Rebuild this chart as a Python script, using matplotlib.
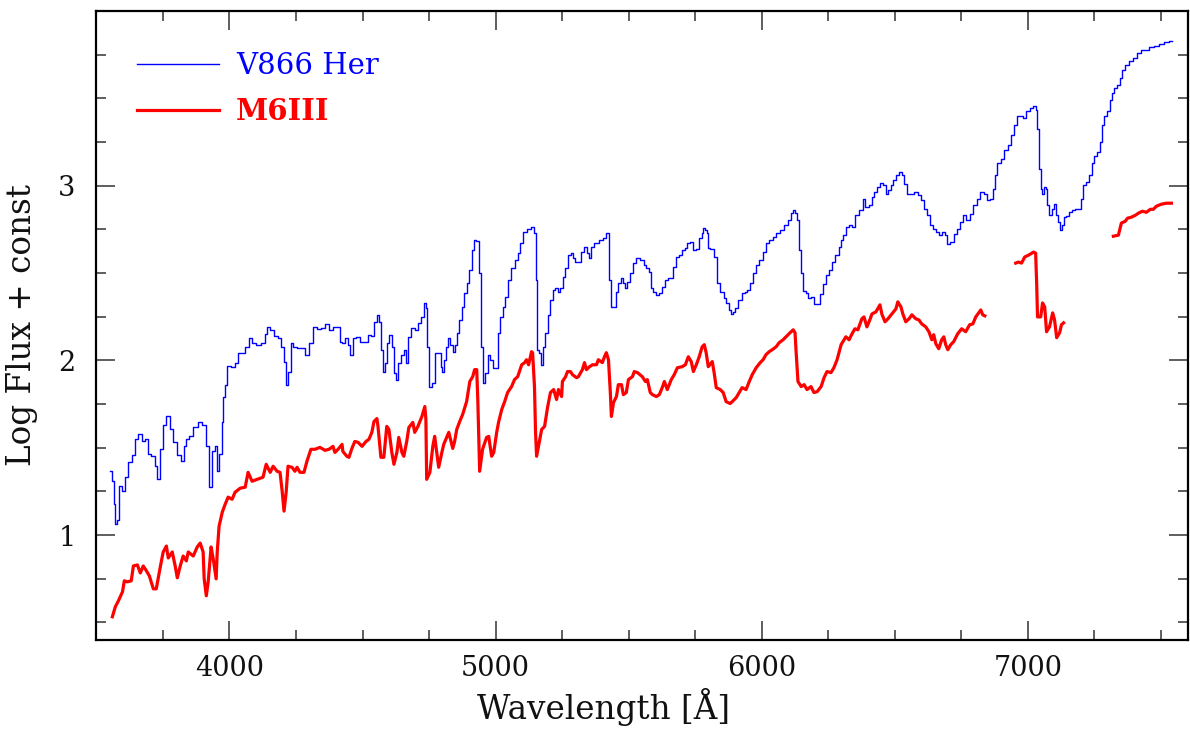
import numpy as np
import matplotlib
matplotlib.use("Agg")
import matplotlib.pyplot as plt
from matplotlib.ticker import MultipleLocator, FixedLocator

# V866 Her spectrum (wavelength [A], log flux + const)
blue_wave = [3553, 3564, 3568, 3571, 3583, 3590, 3605, 3613, 3628, 3639, 3650, 3665, 3676, 3688, 3699,
             3714, 3725, 3733, 3748, 3755, 3770, 3781, 3796, 3811, 3823, 3834, 3841, 3856, 3871, 3890,
             3905, 3916, 3928, 3939, 3950, 3954, 3969, 3973, 3980, 3988, 3995, 4014, 4029, 4036, 4051,
             4066, 4078, 4093, 4108, 4126, 4138, 4145, 4160, 4175, 4190, 4201, 4209, 4216, 4224, 4235,
             4246, 4261, 4273, 4291, 4306, 4321, 4340, 4351, 4366, 4385, 4396, 4408, 4419, 4430, 4441,
             4449, 4460, 4471, 4483, 4498, 4513, 4528, 4539, 4550, 4558, 4565, 4573, 4580, 4591, 4595,
             4606, 4614, 4621, 4629, 4640, 4651, 4659, 4666, 4678, 4689, 4704, 4715, 4726, 4734, 4741,
             4745, 4756, 4764, 4779, 4790, 4798, 4801, 4809, 4816, 4824, 4835, 4843, 4854, 4858, 4869,
             4876, 4888, 4895, 4906, 4914, 4921, 4933, 4940, 4948, 4955, 4966, 4974, 4985, 4993, 5004,
             5011, 5023, 5030, 5041, 5053, 5064, 5079, 5086, 5098, 5109, 5124, 5139, 5146, 5154, 5158,
             5169, 5173, 5180, 5191, 5199, 5210, 5218, 5229, 5236, 5251, 5259, 5266, 5278, 5289, 5296,
             5304, 5315, 5326, 5338, 5345, 5353, 5364, 5379, 5398, 5409, 5420, 5431, 5439, 5450, 5454,
             5465, 5476, 5484, 5491, 5499, 5510, 5521, 5536, 5551, 5563, 5570, 5581, 5589, 5596, 5608,
             5623, 5630, 5641, 5653, 5664, 5671, 5683, 5698, 5705, 5716, 5724, 5735, 5746, 5758, 5773,
             5776, 5784, 5791, 5795, 5799, 5814, 5829, 5836, 5851, 5863, 5870, 5881, 5889, 5896, 5904,
             5919, 5930, 5941, 5949, 5960, 5971, 5983, 5998, 6009, 6020, 6035, 6046, 6061, 6076, 6091,
             6103, 6114, 6121, 6129, 6133, 6144, 6151, 6159, 6170, 6181, 6189, 6200, 6215, 6226, 6234,
             6245, 6260, 6271, 6283, 6294, 6301, 6313, 6320, 6335, 6346, 6358, 6373, 6384, 6395, 6410,
             6418, 6429, 6440, 6451, 6463, 6470, 6481, 6489, 6500, 6508, 6523, 6530, 6541, 6549, 6564,
             6579, 6594, 6605, 6616, 6628, 6639, 6650, 6661, 6673, 6684, 6691, 6703, 6714, 6729, 6736,
             6751, 6763, 6774, 6789, 6800, 6815, 6826, 6841, 6853, 6864, 6871, 6879, 6890, 6905, 6916,
             6931, 6943, 6954, 6961, 6976, 6988, 6999, 7014, 7025, 7033, 7036, 7044, 7051, 7055, 7063,
             7070, 7074, 7085, 7093, 7104, 7108, 7119, 7123, 7130, 7138, 7145, 7160, 7171, 7183, 7198,
             7201, 7213, 7224, 7235, 7243, 7254, 7265, 7276, 7284, 7291, 7303, 7314, 7321, 7329, 7344,
             7351, 7359, 7370, 7389, 7404, 7415, 7434, 7449, 7464, 7483, 7501, 7520, 7543]
blue_flux = [1.365, 1.308, 1.177, 1.063, 1.086, 1.280, 1.251, 1.331, 1.416, 1.456, 1.548, 1.576, 1.536, 1.548, 1.462,
             1.451, 1.394, 1.319, 1.491, 1.628, 1.679, 1.605, 1.531, 1.456, 1.422, 1.508, 1.548, 1.565, 1.616, 1.645,
             1.628, 1.508, 1.274, 1.479, 1.508, 1.365, 1.462, 1.645, 1.793, 1.861, 1.970, 1.964, 1.987, 2.044, 2.044,
             2.078, 2.130, 2.101, 2.090, 2.101, 2.152, 2.192, 2.175, 2.141, 2.130, 2.078, 1.993, 1.861, 1.936, 2.101,
             2.078, 2.072, 2.072, 2.033, 2.101, 2.192, 2.181, 2.187, 2.209, 2.175, 2.192, 2.192, 2.107, 2.101, 2.130,
             2.090, 2.033, 2.130, 2.135, 2.107, 2.107, 2.147, 2.141, 2.221, 2.261, 2.221, 2.061, 1.936, 1.987, 2.101,
             2.147, 2.078, 1.930, 1.890, 1.987, 2.033, 2.061, 1.987, 2.135, 2.187, 2.175, 2.215, 2.249, 2.329, 2.301,
             2.078, 1.850, 1.873, 2.044, 2.044, 1.964, 1.936, 2.004, 2.078, 2.130, 2.090, 2.050, 2.090, 2.158, 2.232,
             2.306, 2.386, 2.443, 2.517, 2.631, 2.689, 2.683, 2.500, 2.078, 1.873, 1.930, 2.033, 2.004, 1.958, 1.958,
             2.158, 2.249, 2.306, 2.363, 2.460, 2.529, 2.574, 2.614, 2.671, 2.734, 2.751, 2.763, 2.728, 2.460, 2.061,
             2.044, 1.975, 2.078, 2.158, 2.261, 2.346, 2.403, 2.415, 2.392, 2.415, 2.477, 2.529, 2.603, 2.614, 2.586,
             2.563, 2.563, 2.620, 2.649, 2.614, 2.586, 2.649, 2.671, 2.689, 2.700, 2.728, 2.460, 2.306, 2.306, 2.392,
             2.443, 2.472, 2.443, 2.415, 2.449, 2.500, 2.557, 2.586, 2.574, 2.546, 2.529, 2.506, 2.415, 2.392, 2.375,
             2.386, 2.420, 2.460, 2.472, 2.472, 2.535, 2.592, 2.603, 2.631, 2.643, 2.671, 2.677, 2.631, 2.637, 2.700,
             2.728, 2.757, 2.746, 2.728, 2.643, 2.637, 2.592, 2.443, 2.392, 2.358, 2.329, 2.289, 2.266, 2.278, 2.301,
             2.346, 2.386, 2.392, 2.403, 2.443, 2.500, 2.546, 2.574, 2.620, 2.671, 2.689, 2.706, 2.728, 2.746, 2.774,
             2.803, 2.843, 2.860, 2.843, 2.803, 2.631, 2.500, 2.398, 2.386, 2.358, 2.363, 2.323, 2.323, 2.381, 2.438,
             2.489, 2.517, 2.563, 2.603, 2.649, 2.689, 2.717, 2.763, 2.774, 2.763, 2.831, 2.860, 2.922, 2.877, 2.888,
             2.934, 2.962, 2.991, 3.014, 3.002, 2.951, 2.974, 3.002, 3.031, 3.059, 3.076, 3.059, 3.008, 2.951, 2.951,
             2.962, 2.945, 2.917, 2.865, 2.831, 2.774, 2.751, 2.734, 2.717, 2.734, 2.717, 2.666, 2.677, 2.723, 2.751,
             2.791, 2.831, 2.803, 2.837, 2.888, 2.922, 2.962, 2.951, 2.917, 2.922, 2.979, 3.059, 3.133, 3.151, 3.202,
             3.236, 3.293, 3.350, 3.402, 3.402, 3.390, 3.430, 3.447, 3.459, 3.436, 3.322, 3.094, 2.979, 2.951, 2.991,
             2.979, 2.888, 2.831, 2.865, 2.894, 2.831, 2.791, 2.746, 2.774, 2.820, 2.825, 2.848, 2.860, 2.865, 2.865,
             2.922, 3.002, 3.019, 3.059, 3.133, 3.173, 3.191, 3.248, 3.345, 3.402, 3.430, 3.493, 3.533, 3.561, 3.578,
             3.618, 3.664, 3.693, 3.715, 3.733, 3.761, 3.778, 3.778, 3.795, 3.801, 3.812, 3.824, 3.829]

# M6III template, three separate pieces
red_wave1 = [3560, 3571, 3583, 3598, 3605, 3616, 3631, 3639, 3654, 3665, 3676, 3688, 3699, 3714, 3725,
             3740, 3751, 3763, 3770, 3785, 3796, 3804, 3815, 3826, 3838, 3845, 3864, 3879, 3890, 3901,
             3905, 3913, 3920, 3931, 3939, 3950, 3954, 3961, 3973, 3984, 3995, 4010, 4021, 4040, 4059,
             4070, 4085, 4104, 4126, 4138, 4153, 4164, 4179, 4190, 4198, 4205, 4213, 4220, 4235, 4246,
             4254, 4265, 4280, 4291, 4306, 4321, 4340, 4359, 4374, 4389, 4396, 4408, 4423, 4426, 4441,
             4449, 4460, 4471, 4483, 4498, 4513, 4524, 4535, 4543, 4554, 4558, 4569, 4580, 4591, 4599,
             4610, 4618, 4629, 4636, 4648, 4655, 4666, 4674, 4689, 4696, 4708, 4723, 4734, 4738, 4741,
             4753, 4764, 4771, 4779, 4786, 4798, 4805, 4816, 4824, 4839, 4846, 4854, 4865, 4876, 4891,
             4903, 4914, 4921, 4929, 4933, 4940, 4951, 4966, 4974, 4985, 4993, 5004, 5011, 5023, 5034,
             5045, 5060, 5071, 5083, 5098, 5109, 5116, 5124, 5135, 5139, 5146, 5150, 5154, 5161, 5173,
             5184, 5195, 5206, 5218, 5229, 5236, 5248, 5251, 5263, 5270, 5281, 5289, 5304, 5311, 5326,
             5334, 5341, 5353, 5364, 5379, 5386, 5401, 5409, 5416, 5424, 5431, 5435, 5443, 5454, 5461,
             5473, 5480, 5491, 5499, 5514, 5521, 5533, 5551, 5563, 5570, 5581, 5589, 5604, 5615, 5626,
             5634, 5645, 5660, 5671, 5683, 5701, 5713, 5724, 5735, 5743, 5754, 5765, 5776, 5784, 5791,
             5799, 5814, 5821, 5829, 5844, 5855, 5866, 5881, 5889, 5904, 5915, 5926, 5941, 5953, 5964,
             5979, 5994, 6005, 6016, 6028, 6039, 6054, 6065, 6080, 6091, 6106, 6118, 6125, 6129, 6136,
             6148, 6159, 6170, 6185, 6196, 6208, 6223, 6234, 6245, 6260, 6271, 6283, 6298, 6316, 6328,
             6339, 6350, 6361, 6376, 6384, 6395, 6406, 6414, 6429, 6444, 6451, 6463, 6474, 6489, 6504,
             6511, 6523, 6530, 6541, 6553, 6564, 6579, 6590, 6601, 6616, 6628, 6639, 6646, 6654, 6665,
             6676, 6684, 6691, 6699, 6710, 6721, 6736, 6751, 6766, 6781, 6793, 6804, 6823, 6830, 6838]
red_flux1 = [0.532, 0.589, 0.624, 0.675, 0.738, 0.732, 0.738, 0.823, 0.829, 0.783, 0.823, 0.795, 0.766, 0.692, 0.692,
             0.817, 0.903, 0.937, 0.869, 0.903, 0.823, 0.755, 0.823, 0.880, 0.852, 0.903, 0.880, 0.932, 0.954, 0.903,
             0.749, 0.652, 0.732, 0.932, 0.863, 0.749, 0.903, 1.051, 1.131, 1.177, 1.217, 1.205, 1.245, 1.268, 1.274,
             1.359, 1.308, 1.319, 1.331, 1.405, 1.359, 1.394, 1.365, 1.359, 1.251, 1.137, 1.245, 1.394, 1.388, 1.365,
             1.388, 1.359, 1.359, 1.422, 1.491, 1.491, 1.502, 1.485, 1.491, 1.508, 1.473, 1.491, 1.519, 1.479, 1.451,
             1.445, 1.496, 1.536, 1.531, 1.508, 1.536, 1.548, 1.588, 1.650, 1.667, 1.622, 1.445, 1.445, 1.622, 1.605,
             1.473, 1.405, 1.473, 1.559, 1.473, 1.451, 1.536, 1.616, 1.645, 1.588, 1.622, 1.679, 1.736, 1.662, 1.319,
             1.359, 1.508, 1.565, 1.473, 1.388, 1.473, 1.519, 1.559, 1.588, 1.496, 1.536, 1.605, 1.650, 1.690, 1.764,
             1.879, 1.907, 1.947, 1.947, 1.776, 1.365, 1.491, 1.559, 1.565, 1.451, 1.473, 1.588, 1.645, 1.719, 1.764,
             1.816, 1.850, 1.890, 1.907, 1.975, 1.987, 2.004, 1.975, 2.050, 2.044, 1.850, 1.588, 1.451, 1.508, 1.605,
             1.622, 1.730, 1.816, 1.833, 1.776, 1.833, 1.793, 1.879, 1.907, 1.936, 1.936, 1.918, 1.901, 1.907, 1.947,
             1.987, 1.947, 1.964, 1.975, 1.975, 2.004, 1.987, 2.021, 2.044, 2.004, 1.816, 1.679, 1.759, 1.793, 1.861,
             1.861, 1.804, 1.816, 1.890, 1.907, 1.936, 1.930, 1.907, 1.879, 1.890, 1.816, 1.804, 1.793, 1.804, 1.844,
             1.879, 1.833, 1.890, 1.918, 1.958, 1.964, 1.975, 2.021, 1.993, 1.936, 1.975, 2.021, 2.078, 2.090, 2.044,
             1.964, 1.993, 1.930, 1.844, 1.833, 1.816, 1.764, 1.753, 1.764, 1.787, 1.816, 1.844, 1.833, 1.879, 1.918,
             1.958, 1.987, 2.004, 2.033, 2.050, 2.061, 2.078, 2.101, 2.118, 2.135, 2.158, 2.175, 2.158, 2.050, 1.879,
             1.850, 1.861, 1.833, 1.850, 1.816, 1.821, 1.850, 1.901, 1.936, 1.930, 1.958, 2.004, 2.090, 2.135, 2.118,
             2.152, 2.181, 2.175, 2.238, 2.249, 2.192, 2.232, 2.266, 2.278, 2.318, 2.266, 2.221, 2.238, 2.266, 2.295,
             2.335, 2.306, 2.266, 2.221, 2.238, 2.261, 2.238, 2.232, 2.209, 2.192, 2.164, 2.118, 2.147, 2.095, 2.067,
             2.118, 2.135, 2.090, 2.061, 2.090, 2.107, 2.152, 2.181, 2.164, 2.204, 2.209, 2.249, 2.289, 2.261, 2.255]
red_wave2 = [6954, 6965, 6976, 6988, 7003, 7021, 7029, 7033, 7036, 7048, 7055, 7063, 7070, 7081, 7093,
             7100, 7108, 7119, 7126, 7134]
red_flux2 = [2.557, 2.563, 2.557, 2.592, 2.603, 2.620, 2.614, 2.432, 2.249, 2.249, 2.329, 2.306, 2.164, 2.192, 2.272,
             2.232, 2.130, 2.158, 2.204, 2.215]
red_wave3 = [7321, 7340, 7351, 7366, 7374, 7389, 7404, 7415, 7430, 7445, 7460, 7471, 7483, 7501, 7520, 7539]
red_flux3 = [2.711, 2.717, 2.786, 2.797, 2.814, 2.820, 2.831, 2.843, 2.854, 2.848, 2.865, 2.865, 2.883, 2.894, 2.900,
             2.900]

x_ticks = [4000, 5000, 6000, 7000]
y_ticks = [1, 2, 3]

plt.rcParams['font.family'] = ['DejaVu Serif']
fig = plt.figure(figsize=(11.9, 7.38), dpi=100)
ax = fig.add_axes([0.081, 0.133, 0.917, 0.852])

ax.plot(blue_wave, blue_flux, color='#0000ff', lw=1.0, drawstyle='steps-mid', label='V866 Her')
ax.plot(red_wave1, red_flux1, color='#ff0000', lw=2.3, label='M6III')
ax.plot(red_wave2, red_flux2, color='#ff0000', lw=2.3)
ax.plot(red_wave3, red_flux3, color='#ff0000', lw=2.3)

ax.set_xlim(3500, 7600)
ax.set_ylim(0.4, 4.0)

ax.xaxis.set_major_locator(FixedLocator(x_ticks))
ax.xaxis.set_minor_locator(MultipleLocator(250))
ax.yaxis.set_major_locator(FixedLocator(y_ticks))
ax.yaxis.set_minor_locator(MultipleLocator(0.25))
ax.tick_params(which='both', direction='in', top=True, right=True, colors='#333333', labelcolor='#111111')
ax.tick_params(which='major', length=14, width=1.1, labelsize=19.5)
ax.tick_params(which='minor', length=7, width=1.1)
ax.tick_params(axis='x', which='major', pad=11)
ax.tick_params(axis='y', which='major', pad=15)
for s in ax.spines.values():
    s.set_linewidth(1.6)

ax.set_xlabel('Wavelength [Å]', fontsize=23.5, color='#111111')
ax.set_ylabel('Log Flux + const', fontsize=23.5, color='#111111')
ax.xaxis.set_label_coords(0.4645, -0.077)
ax.yaxis.set_label_coords(-0.0536, 0.5)

leg = ax.legend(loc='upper left', frameon=False, fontsize=21, handlelength=2.8,
                handletextpad=0.58, labelspacing=0.58, borderaxespad=1.0)
for txt, line in zip(leg.get_texts(), leg.get_lines()):
    txt.set_color(line.get_color())
leg.get_texts()[1].set_fontweight('bold')

fig.savefig('out.png', dpi=100)
